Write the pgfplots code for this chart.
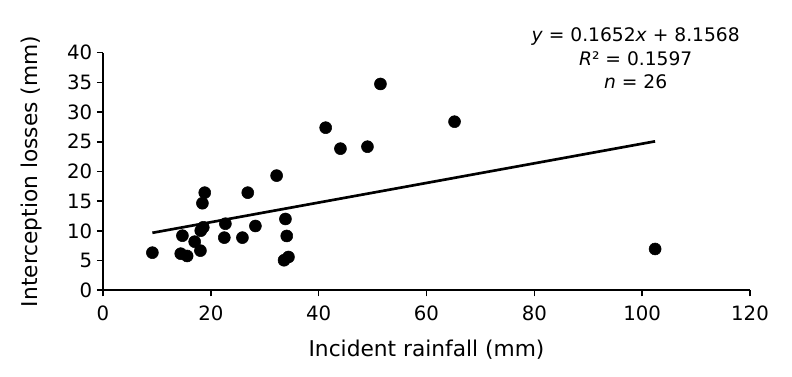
\documentclass[border=0pt]{standalone}
\usepackage{fontspec}
\setmainfont{DejaVu Sans}
\usepackage{pgfplots}
\pgfplotsset{compat=1.18}
\begin{document}
\begin{tikzpicture}
\path[use as bounding box] (-77.25pt,-65pt) rectangle (516.75pt,217.7pt);
\begin{axis}[
  at={(0,0)}, anchor=south west,
  scale only axis, width=485.25pt, height=178.2pt,
  xmin=0, xmax=120, ymin=0, ymax=40,
  axis x line*=bottom, axis y line*=left,
  axis line style={line width=1.2pt, -},
  every tick/.style={black, line width=1.2pt},
  tick align=outside, major tick length=4.5pt,
  xtick={0,20,...,120}, ytick={0,5,...,40},
  /pgf/number format/assume math mode=true,
  tick label style={font=\fontsize{14.8}{17}\selectfont},
  xticklabel style={yshift=-4pt},
  label style={font=\fontsize{16.3}{19}\selectfont},
  xlabel style={yshift=-7pt},
  ylabel style={yshift=12pt},
  xlabel={Incident rainfall (mm)},
  ylabel={Interception losses (mm)},
  clip=false,
]
\addplot[black, line width=2pt] coordinates {(9.16,9.67) (102.4,25.07)};
\addplot[only marks, mark=*, mark size=4.5pt, black] coordinates {
(9.16,6.33) (14.73,9.19) (14.42,6.16) (15.6,5.77) (17.0,8.18)
(18.07,6.67) (18.13,10.03) (18.6,10.6) (18.44,14.65) (18.87,16.43)
(22.5,8.86) (22.7,11.2) (25.86,8.86) (26.85,16.43) (28.27,10.82)
(32.2,19.3) (33.84,12.0) (34.08,9.14) (33.58,5.05) (34.4,5.6)
(51.46,34.73) (41.3,27.37) (44.04,23.84) (49.05,24.17) (65.2,28.38)
(102.4,6.95)
};
\node[align=center, font=\fontsize{14}{17.3}\selectfont] at (axis cs:98.8,39.06)
  {\textit{y} = 0.1652\textit{x} + 8.1568\\ \textit{R}² = 0.1597\\ \textit{n} = 26};
\end{axis}
\end{tikzpicture}
\end{document}
